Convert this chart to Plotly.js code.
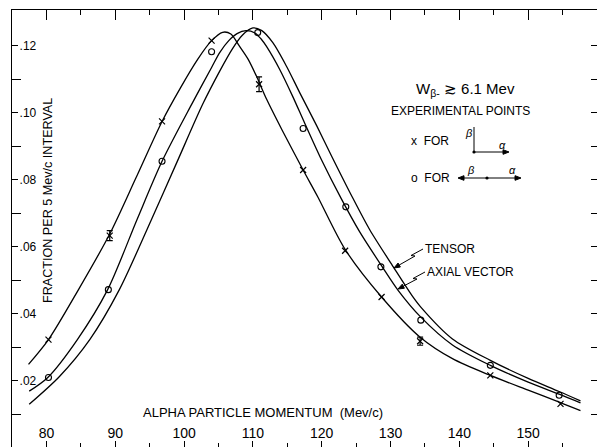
<!DOCTYPE html>
<html><head><meta charset="utf-8">
<script src="https://cdn.plot.ly/plotly-3.0.1.min.js"></script>
<style>html,body{margin:0;padding:0;background:#fff}</style>
</head><body><div id="chart" style="width:597px;height:447px"></div>
<script>
// ---- Theoretical curves ----
const curveAMomentum = [77.4, 80.3, 84.6, 89.2, 93.0, 96.8, 99.5, 102.0, 104.0, 105.6, 106.8, 108.0, 109.3, 110.5, 112.0, 114.2, 117.3, 119.4, 123.4, 128.7, 134.3, 139.0, 144.5, 150.0, 154.7, 157.6];
const curveAFraction = [0.0249, 0.0323, 0.0470, 0.0638, 0.0805, 0.0974, 0.1075, 0.1160, 0.1215, 0.1240, 0.1235, 0.1200, 0.1160, 0.1110, 0.1040, 0.0950, 0.0829, 0.0750, 0.0592, 0.0450, 0.0330, 0.0266, 0.0216, 0.0172, 0.0135, 0.0111];

const axialMomentum = [77.5, 80.2, 84.5, 88.9, 93.2, 96.8, 101.1, 104.0, 105.2, 106.5, 107.7, 109.0, 110.3, 111.2, 112.0, 113.9, 115.8, 117.5, 120.0, 122.8, 125.5, 128.8, 131.1, 134.4, 139.0, 144.5, 150.0, 154.5, 157.6];
const axialFraction = [0.0169, 0.0210, 0.0323, 0.0472, 0.0683, 0.0855, 0.1025, 0.1135, 0.1180, 0.1215, 0.1236, 0.1245, 0.1238, 0.1220, 0.1197, 0.1129, 0.1048, 0.0970, 0.0858, 0.0745, 0.0645, 0.0540, 0.0470, 0.0390, 0.0307, 0.0246, 0.0196, 0.0160, 0.0134];

const tensorMomentum = [77.5, 81.9, 86.3, 90.6, 95.3, 99.0, 102.7, 105.2, 107.0, 108.5, 110.0, 111.3, 112.9, 114.9, 116.8, 119.3, 121.5, 124.4, 127.0, 130.4, 133.1, 134.4, 139.0, 144.5, 150.0, 154.5, 157.6];
const tensorFraction = [0.0130, 0.0213, 0.0323, 0.0472, 0.0683, 0.0854, 0.1025, 0.1125, 0.1190, 0.1232, 0.1253, 0.1245, 0.1209, 0.1138, 0.1060, 0.0960, 0.0868, 0.0750, 0.0650, 0.0540, 0.0455, 0.0420, 0.0325, 0.0261, 0.0207, 0.0168, 0.0140];

// ---- Experimental points ----
const crossMomentum = [80.3, 89.2, 96.8, 104.0, 110.9, 117.3, 123.4, 128.7, 134.3, 144.5, 154.7];
const crossFraction = [0.0323, 0.0633, 0.0974, 0.1215, 0.1085, 0.0829, 0.0588, 0.0450, 0.0318, 0.0216, 0.0131];
const crossError    = [0, 0.0015, 0, 0, 0.0022, 0, 0, 0, 0.0012, 0, 0];

const circleMomentum = [80.3, 89.0, 96.8, 104.0, 110.7, 117.3, 123.5, 128.6, 134.4, 144.5, 154.5];
const circleFraction = [0.0210, 0.0472, 0.0855, 0.1182, 0.1239, 0.0953, 0.0719, 0.0540, 0.0381, 0.0246, 0.0157];

// ---- Ticks ----
const xTickVals = [80, 90, 100, 110, 120, 130, 140, 150];
const xTickText = ['80', '90', '100', '110', '120', '130', '140', '150'];
const xMinorVals = [85, 95, 105, 115, 125, 135, 145, 155];
const yTickVals = [0.02, 0.04, 0.06, 0.08, 0.10, 0.12];
const yTickText = ['.02', '.04', '.06', '.08', '.10', '.12'];
const yMinorVals = [0.01, 0.03, 0.05, 0.07, 0.09, 0.11];
const yRightVals = [0.01, 0.02, 0.03, 0.04, 0.05, 0.06, 0.07, 0.08, 0.09, 0.10, 0.11, 0.12];

const FONT = 'Liberation Sans, Arial, sans-serif';
const W = 597, H = 447, L = 12, T = 10, R = 0, B = 0;
const PW = W - L - R, PH = H - T - B;
const px = x => (x - L) / PW;
const py = y => (H - B - y) / PH;
const XR = [75, 160], YR = [0.00024, 0.13065];

const curveStyle = {color: '#000', width: 1.3, shape: 'spline', smoothing: 0.8};

const errIdx = crossError.map((e, i) => e > 0 ? i : -1).filter(i => i >= 0);

const traces = [
  {x: curveAMomentum, y: curveAFraction, mode: 'lines', line: curveStyle, hoverinfo: 'skip'},
  {x: axialMomentum, y: axialFraction, mode: 'lines', line: curveStyle, hoverinfo: 'skip'},
  {x: tensorMomentum, y: tensorFraction, mode: 'lines', line: curveStyle, hoverinfo: 'skip'},
  {x: crossMomentum, y: crossFraction, mode: 'markers',
   marker: {symbol: 'x-thin-open', size: 6, color: '#000', line: {color: '#000', width: 1.2}}},
  {x: errIdx.map(i => crossMomentum[i]), y: errIdx.map(i => crossFraction[i]), mode: 'markers',
   marker: {size: 1, opacity: 0},
   error_y: {type: 'data', array: errIdx.map(i => crossError[i]), visible: true, color: '#000', thickness: 1.2, width: 3}},
  {x: circleMomentum, y: circleFraction, mode: 'markers',
   marker: {symbol: 'circle-open', size: 6, color: '#000', line: {color: '#000', width: 1.1}}},
  // empty traces so the mirrored frame axes (top, right) are drawn
  {x: [], y: [], xaxis: 'x2', yaxis: 'y', mode: 'markers', hoverinfo: 'skip'},
  {x: [], y: [], xaxis: 'x', yaxis: 'y2', mode: 'markers', hoverinfo: 'skip'}
];

function txt(text, x, y, size, opts) {
  return Object.assign({xref: 'paper', yref: 'paper', x: px(x), y: py(y), text: text, showarrow: false,
    font: {family: FONT, size: size, color: '#000'}, xanchor: 'left', yanchor: 'middle'}, opts || {});
}
function seg(x0, y0, x1, y1) {
  return {type: 'line', xref: 'paper', yref: 'paper', x0: px(x0), y0: py(y0), x1: px(x1), y1: py(y1), line: {color: '#000', width: 1}};
}
function dot(x, y) {
  return {type: 'circle', xref: 'paper', yref: 'paper', xsizemode: 'pixel', ysizemode: 'pixel',
    xanchor: px(x), yanchor: py(y), x0: -1.6, x1: 1.6, y0: -1.6, y1: 1.6, fillcolor: '#000', line: {width: 0}};
}
function poly(pts, closed) {
  return {type: 'path', xref: 'paper', yref: 'paper',
    path: pts.map((p, i) => (i ? 'L' : 'M') + px(p[0]) + ',' + py(p[1])).join(' ') + (closed ? ' Z' : ''),
    line: {color: '#000', width: 1}, fillcolor: closed ? '#000' : 'rgba(0,0,0,0)'};
}
// arrow from tail (tx,ty) to head (hx,hy), in pixels
function arrowShapes(tx, ty, hx, hy) {
  const dx = hx - tx, dy = hy - ty, len = Math.hypot(dx, dy);
  const ux = dx / len, uy = dy / len, nx = -uy, ny = ux, hl = 6, hw = 2.3;
  const bx = hx - ux * hl, by = hy - uy * hl;
  return [seg(tx, ty, bx, by),
          poly([[hx, hy], [bx + nx * hw, by + ny * hw], [bx - nx * hw, by - ny * hw]], true)];
}

const annotations = [
  txt('FRACTION PER 5 Mev/c INTERVAL', 48, 201, 12.6, {xanchor: 'center', textangle: -90}),
  txt('ALPHA PARTICLE MOMENTUM  (Mev/c)', 263, 412, 13, {xanchor: 'center'}),
  txt('W<sub>β-</sub> ≳ 6.1 Mev', 414, 90, 15),
  txt('EXPERIMENTAL POINTS', 460, 111, 12, {xanchor: 'center'}),
  txt('x  FOR', 409, 141, 12),
  txt('o  FOR', 409, 178, 12),
  txt('<i>β</i>', 469, 133, 11, {xanchor: 'center'}),
  txt('<i>α</i>', 502, 145, 11, {xanchor: 'center'}),
  txt('<i>β</i>', 471, 170, 11, {xanchor: 'center'}),
  txt('<i>α</i>', 512, 170, 11, {xanchor: 'center'}),
  txt('TENSOR', 423, 249, 12),
  txt('AXIAL VECTOR', 425, 272, 12)
];

const shapes = [].concat(
  [seg(474, 127, 474, 152), dot(474, 152), dot(487, 178)],
  arrowShapes(474, 152, 509, 152),
  arrowShapes(487, 178, 458, 178),
  arrowShapes(487, 178, 521, 178),
  [poly([[423, 249], [411, 255.5], [415, 256]], false)],
  arrowShapes(415, 256, 394, 268),
  [poly([[425, 272], [413, 278.5], [417, 279]], false)],
  arrowShapes(417, 279, 398, 289)
);

const axisCommon = {showgrid: false, zeroline: false, fixedrange: true, tickcolor: '#000', linecolor: '#000'};

const layout = {
  width: W, height: H,
  margin: {l: L, r: R, t: T, b: B, pad: 0},
  paper_bgcolor: '#fff', plot_bgcolor: '#fff',
  showlegend: false,
  font: {family: FONT, color: '#000'},
  xaxis: Object.assign({}, axisCommon, {
    range: XR, showline: false, ticks: 'inside', ticklen: 6, tickwidth: 1,
    tickmode: 'array', tickvals: xTickVals, ticktext: xTickText,
    ticklabelposition: 'inside', ticklabelstandoff: 0,
    tickfont: {family: FONT, size: 14, color: '#000'},
    minor: {tickmode: 'array', tickvals: xMinorVals, ticks: 'inside', ticklen: 4, tickcolor: '#000', tickwidth: 1}
  }),
  xaxis2: Object.assign({}, axisCommon, {
    range: XR, overlaying: 'x', side: 'top', anchor: 'y', showline: true, linewidth: 1.3,
    ticks: 'inside', ticklen: 10, tickwidth: 1.1, tickmode: 'array', tickvals: xTickVals, showticklabels: false,
    minor: {tickmode: 'array', tickvals: xMinorVals, ticks: 'inside', ticklen: 5, tickcolor: '#000', tickwidth: 1.1}
  }),
  yaxis: Object.assign({}, axisCommon, {
    range: YR, showline: true, linewidth: 1.3, ticks: 'inside', ticklen: 6, tickwidth: 1,
    tickmode: 'array', tickvals: yTickVals, ticktext: yTickText,
    ticklabelposition: 'inside', ticklabelstandoff: 1,
    tickfont: {family: FONT, size: 12, color: '#000'},
    minor: {tickmode: 'array', tickvals: yMinorVals, ticks: 'inside', ticklen: 9, tickcolor: '#000', tickwidth: 1}
  }),
  yaxis2: Object.assign({}, axisCommon, {
    range: YR, overlaying: 'y', side: 'right', anchor: 'x', showline: false,
    ticks: 'inside', ticklen: 6, tickwidth: 1, tickmode: 'array', tickvals: yRightVals, showticklabels: false
  }),
  annotations: annotations,
  shapes: shapes
};

Plotly.newPlot('chart', traces, layout, {staticPlot: true, displayModeBar: false});
</script>
</body></html>
